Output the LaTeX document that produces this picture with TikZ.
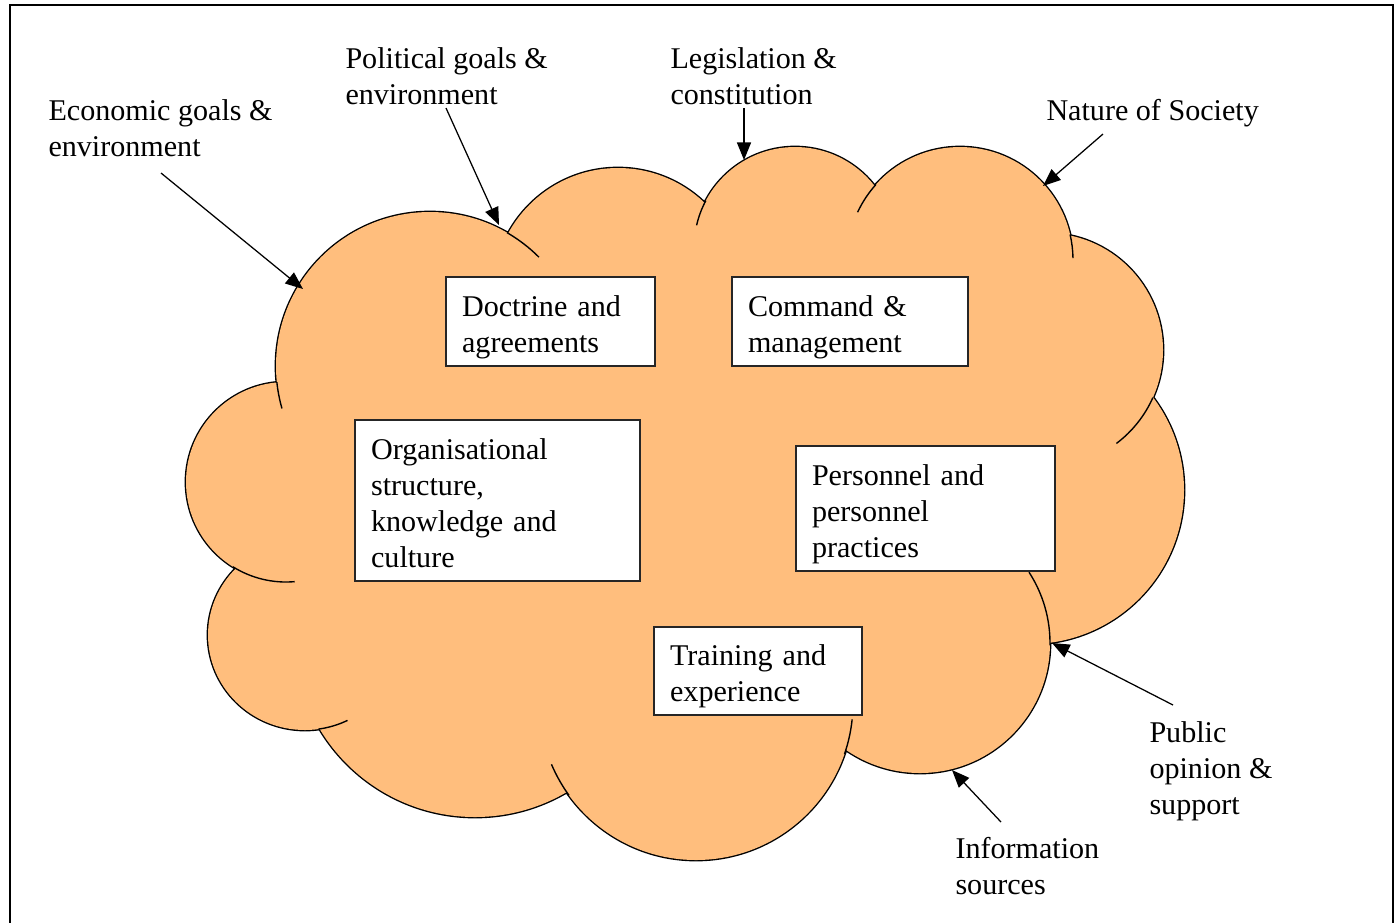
\documentclass[tikz,border=0pt]{standalone}
\usepackage{fontspec}
\setmainfont{Liberation Serif}
\usetikzlibrary{arrows.meta}
\definecolor{cloudfill}{RGB}{255,190,125}
\newcommand\cloudtail[5]{\draw[cloudline] (#1,#2) ++(#3:#5) arc[start angle=#3, end angle=#4, radius=#5];}
\newcommand\firstline{\rule{0pt}{10pt}}
\begin{document}
\begin{tikzpicture}[x=0.3987pt,y=-0.3987pt,
  cloudline/.style={line width=0.55pt},
  arr/.style={line width=0.5pt,-{Triangle[length=7pt,width=5.6pt]}},
  box/.style={draw=black!85,line width=0.45pt,fill=white,align=left,inner xsep=6.4pt,inner ysep=0pt,font=\fontsize{12pt}{14.35pt}\selectfont},
  lbl/.style={inner sep=0pt,anchor=base west,font=\fontsize{12pt}{14.35pt}\selectfont}]
\useasboundingbox (0,0) rectangle (1397,922);
% outline of the cloud (outer half of a double-width stroke)
\draw[line width=1.1pt] (430,366) circle (154) (618,293) circle (125) (795,248) circle (101)
  (960,260) circle (113) (1046,350) circle (117) (1030,490) circle (154) (920,643) circle (130)
  (696,703) circle (157) (475,636) circle (181) (305,635) circle [x radius=97, y radius=95]
  (286,482) circle (100);
\fill[cloudfill] (430,366) circle (154) (618,293) circle (125) (795,248) circle (101)
  (960,260) circle (113) (1046,350) circle (117) (1030,490) circle (154) (920,643) circle (130)
  (696,703) circle (157) (475,636) circle (181) (305,635) circle [x radius=97, y radius=95]
  (286,482) circle (100);
\fill[cloudfill] (430,366) -- (618,293) -- (795,248) -- (960,260) -- (1046,350) -- (1030,490)
  -- (920,643) -- (696,703) -- (475,636) -- (305,635) -- (286,482) -- cycle;
% inner tails of the lobes
\cloudtail{430}{366}{-60}{-45}{154}
\cloudtail{430}{366}{174}{164}{154}
\cloudtail{795}{248}{208}{193}{101}
\cloudtail{960}{260}{222}{205}{113}
\cloudtail{960}{260}{-13}{-1}{113}
\cloudtail{1046}{350}{24}{53}{117}
\cloudtail{920}{643}{1}{-33}{130}
\cloudtail{696}{703}{144}{157}{157}
\cloudtail{696}{703}{19}{6}{157}
\cloudtail{286}{482}{122}{85}{100}
\draw[cloudline] (305,635) ++(82:97 and 95) arc[start angle=82, end angle=64, x radius=97, y radius=95];
% boxes
\node[box,minimum width=83.3pt,minimum height=35.5pt,text width=70.5pt] (doc) at (550.5,321.5) {\firstline Doctrine and\\\smash{agreements}};
\node[box,minimum width=94.1pt,minimum height=35.5pt,text width=81.3pt] (cmd) at (850,321.5) {\firstline Command \&\\\smash{management}};
\node[box,minimum width=113.6pt,minimum height=64.2pt,text width=100.8pt] (org) at (497.5,500.5) {\firstline Organisational\\structure,\\knowledge and\\\smash{culture}};
\node[box,minimum width=103.3pt,minimum height=49.8pt,text width=90.5pt] (per) at (925.5,508.5) {\firstline Personnel and\\personnel\\\smash{practices}};
\node[box,minimum width=82.9pt,minimum height=35.1pt,text width=70.1pt] (trn) at (758,671) {\firstline Training and\\\smash{experience}};
% outer labels
\node[lbl] (econ) at (48,120) {\begin{tabular}[t]{@{}l@{}}Economic goals \&\\environment\end{tabular}};
\node[lbl] (pol) at (345,68) {\begin{tabular}[t]{@{}l@{}}Political goals \&\\environment\end{tabular}};
\node[lbl] (leg) at (670,68) {\begin{tabular}[t]{@{}l@{}}Legislation \&\\constitution\end{tabular}};
\node[lbl] (nat) at (1046,120) {Nature of Society};
\node[lbl] (pub) at (1149,742) {\begin{tabular}[t]{@{}l@{}}Public\\opinion \&\\support\end{tabular}};
\node[lbl] (inf) at (955,858) {\begin{tabular}[t]{@{}l@{}}Information\\sources\end{tabular}};
% arrows
\coordinate (econ-s) at (161,173); \coordinate (econ-t) at (303,289);
\coordinate (pol-s) at (446,108); \coordinate (pol-t) at (499,225);
\coordinate (leg-s) at (744,108); \coordinate (leg-t) at (744,160);
\coordinate (nat-s) at (1103,134); \coordinate (nat-t) at (1043,186);
\coordinate (pub-s) at (1173,705); \coordinate (pub-t) at (1052,643);
\coordinate (inf-s) at (1001,822); \coordinate (inf-t) at (952,770);
\draw[arr] (econ-s) -- (econ-t);
\draw[arr] (pol-s) -- (pol-t);
\draw[arr] (leg-s) -- (leg-t);
\draw[arr] (nat-s) -- (nat-t);
\draw[arr] (pub-s) -- (pub-t);
\draw[arr] (inf-s) -- (inf-t);
% frame
\draw[line width=0.55pt] (10,5) rectangle (1393,940);
\end{tikzpicture}
\end{document}
